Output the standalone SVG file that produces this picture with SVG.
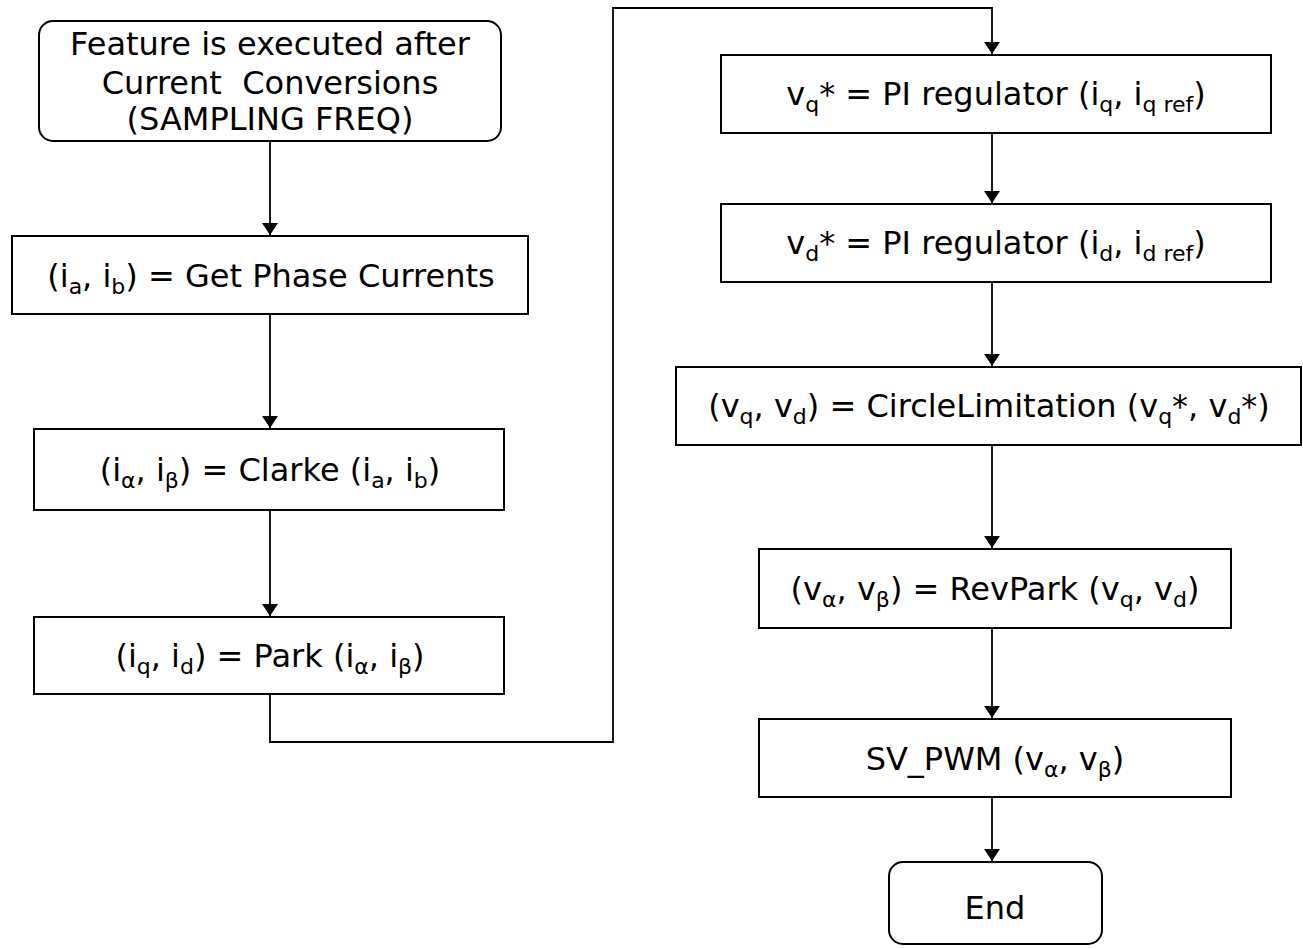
<svg xmlns="http://www.w3.org/2000/svg" width="1303" height="949" viewBox="0 0 1303 949">
<style>
.box{fill:#fff;stroke:#000;stroke-width:2}
.t{font-family:"DejaVu Sans",Verdana,sans-serif;font-size:32px;fill:#000;text-anchor:middle}
.s{font-size:22px;baseline-shift:-7px}
.c{fill:none;stroke:#000;stroke-width:1.8}
</style>
<defs>
<marker id="ah" viewBox="0 0 12 16" refX="12" refY="8" markerWidth="12" markerHeight="16" markerUnits="userSpaceOnUse" orient="auto">
<path d="M0,0 L12,8 L0,16 Z" fill="#000"/>
</marker>
</defs>
<g id="connectors">
<path class="c" d="M270,141 V235" marker-end="url(#ah)"/>
<path class="c" d="M270,314 V428" marker-end="url(#ah)"/>
<path class="c" d="M270,510 V616" marker-end="url(#ah)"/>
<path class="c" d="M270,694 V742 H613 V8 H992 V54" marker-end="url(#ah)"/>
<path class="c" d="M992,133 V203" marker-end="url(#ah)"/>
<path class="c" d="M992,282 V366" marker-end="url(#ah)"/>
<path class="c" d="M992,445 V548" marker-end="url(#ah)"/>
<path class="c" d="M992,628 V718" marker-end="url(#ah)"/>
<path class="c" d="M992,797 V861" marker-end="url(#ah)"/>
</g>
<g id="start">
<rect class="box" x="39" y="21" width="462" height="120" rx="14"/>
<text class="t" x="270" y="55">Feature is executed after</text>
<text class="t" x="270" y="94" xml:space="preserve">Current  Conversions</text>
<text class="t" x="270" y="130">(SAMPLING FREQ)</text>
</g>
<g id="getcurrents">
<rect class="box" x="12" y="236" width="516" height="78"/>
<text class="t" x="271" y="287">(i<tspan class="s">a</tspan>, i<tspan class="s">b</tspan>) = Get Phase Currents</text>
</g>
<g id="clarke">
<rect class="box" x="34" y="429" width="470" height="81"/>
<text class="t" x="270" y="481">(i<tspan class="s">α</tspan>, i<tspan class="s">β</tspan>) = Clarke (i<tspan class="s">a</tspan>, i<tspan class="s">b</tspan>)</text>
</g>
<g id="park">
<rect class="box" x="34" y="617" width="470" height="77"/>
<text class="t" x="270" y="667">(i<tspan class="s">q</tspan>, i<tspan class="s">d</tspan>) = Park (i<tspan class="s">α</tspan>, i<tspan class="s">β</tspan>)</text>
</g>
<g id="piq">
<rect class="box" x="721" y="55" width="550" height="78"/>
<text class="t" x="996" y="105">v<tspan class="s">q</tspan>* = PI regulator (i<tspan class="s">q</tspan>, i<tspan class="s">q ref</tspan>)</text>
</g>
<g id="pid">
<rect class="box" x="721" y="204" width="550" height="78"/>
<text class="t" x="996" y="254">v<tspan class="s">d</tspan>* = PI regulator (i<tspan class="s">d</tspan>, i<tspan class="s">d ref</tspan>)</text>
</g>
<g id="circle">
<rect class="box" x="676" y="367" width="625" height="78"/>
<text class="t" x="989" y="417">(v<tspan class="s">q</tspan>, v<tspan class="s">d</tspan>) = CircleLimitation (v<tspan class="s">q</tspan>*, v<tspan class="s">d</tspan>*)</text>
</g>
<g id="revpark">
<rect class="box" x="759" y="549" width="472" height="79"/>
<text class="t" x="995" y="600">(v<tspan class="s">α</tspan>, v<tspan class="s">β</tspan>) = RevPark (v<tspan class="s">q</tspan>, v<tspan class="s">d</tspan>)</text>
</g>
<g id="svpwm">
<rect class="box" x="759" y="719" width="472" height="78"/>
<text class="t" x="995" y="770">SV_PWM (v<tspan class="s">α</tspan>, v<tspan class="s">β</tspan>)</text>
</g>
<g id="end">
<rect class="box" x="889" y="862" width="213" height="82" rx="14"/>
<text class="t" x="995" y="919">End</text>
</g>
</svg>
